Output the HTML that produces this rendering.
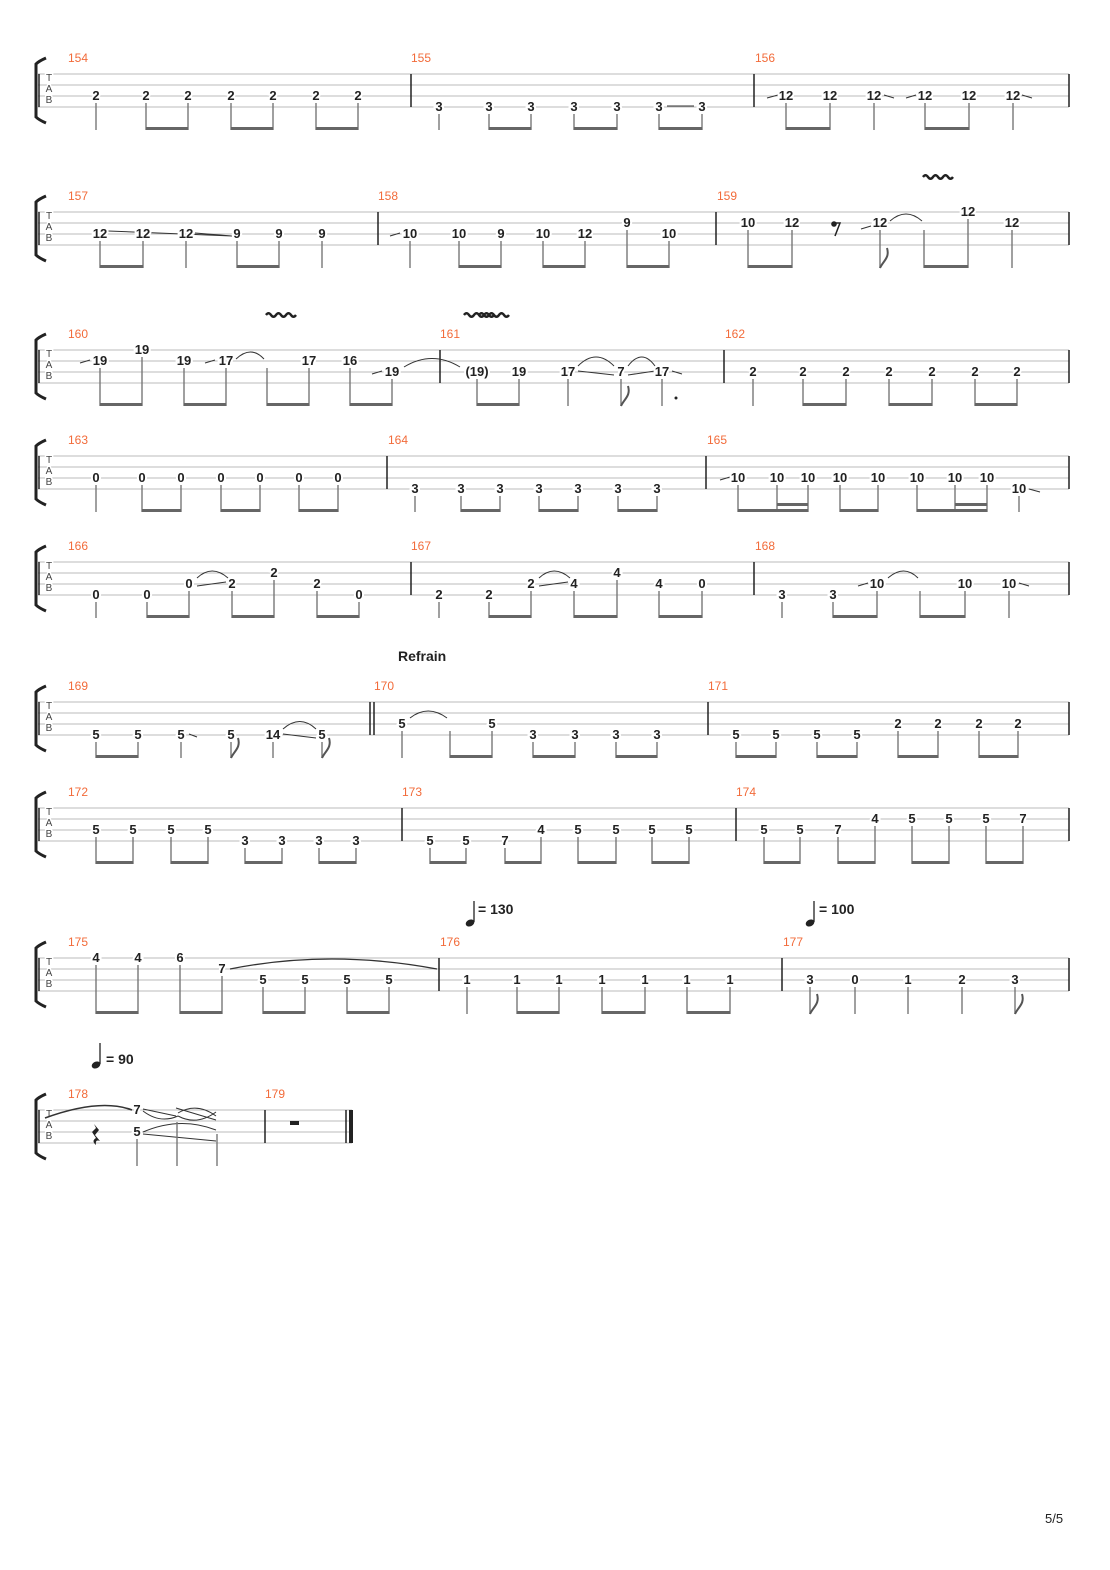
<!DOCTYPE html>
<html><head><meta charset="utf-8"><style>
html,body{margin:0;padding:0;background:#fff;}
svg{display:block;}
.n{font-family:"Liberation Sans",sans-serif;font-weight:bold;font-size:13px;fill:#222;text-anchor:middle;stroke:#fff;stroke-width:4px;paint-order:stroke;}
.m{font-family:"Liberation Sans",sans-serif;font-size:12px;fill:#f26b3a;}
.t{font-family:"Liberation Sans",sans-serif;font-weight:bold;font-size:14px;fill:#222;}
.tab{font-family:"Liberation Sans",sans-serif;font-size:10px;fill:#444;text-anchor:middle;stroke:#fff;stroke-width:3px;paint-order:stroke;}
.sl{stroke:#bbb;stroke-width:1;}
.bar{stroke:#222;stroke-width:1.5;}
.st{stroke:#777;stroke-width:1.4;fill:none;}
.bm{fill:#666;}
.cv{stroke:#333;stroke-width:1;fill:none;}
</style></head><body>
<svg width="1110" height="1570" viewBox="0 0 1110 1570" xmlns="http://www.w3.org/2000/svg">
<defs>
<g id="br">
<path d="M46,-16Q39,-13 36,-10V43Q39,46 46,49" stroke="#222" stroke-width="3" fill="none"/>
<line class="bar" x1="39" y1="0" x2="39" y2="33"/>
<text class="tab" x="49" y="7">T</text><text class="tab" x="49" y="18">A</text><text class="tab" x="49" y="29">B</text>
</g>
<g id="staff">
<path class="sl" d="M38,0H1069M38,11H1069M38,22H1069M38,33H1069"/>
<use href="#br"/>
</g>
<g id="vib"><path d="M0,0 q2.5,-3.5 5,0 t5,0 t5,0 t5,0 t5,0 t5,0" stroke="#222" stroke-width="2.4" fill="none"/></g>
</defs>

<!-- System 1 -->
<g transform="translate(0,74)">
<use href="#staff"/>
<path class="bar" d="M411,0V33M754,0V33M1069,0V33"/>
<text class="m" x="68" y="-12">154</text><text class="m" x="411" y="-12">155</text><text class="m" x="755" y="-12">156</text>
<path class="st" d="M96,29V56M146,29V56M188,29V56M231,29V56M273,29V56M316,29V56M358,29V56M439,40V56M489,40V56M531,40V56M574,40V56M617,40V56M659,40V56M702,40V56M786,29V56M830,29V56M874,29V56M925,29V56M969,29V56M1013,29V56"/>
<path class="bm" d="M146,53h42v3h-42zM231,53h42v3h-42zM316,53h42v3h-42zM489,53h42v3h-42zM574,53h43v3h-43zM659,53h43v3h-43zM786,53h44v3h-44zM925,53h44v3h-44z"/>
<path class="cv" d="M767,24L778,21M884,21L894,24M906,24L916,21M1022,21L1032,24M667,32L694,32"/>
<g class="n">
<text x="96" y="26">2</text><text x="146" y="26">2</text><text x="188" y="26">2</text><text x="231" y="26">2</text><text x="273" y="26">2</text><text x="316" y="26">2</text><text x="358" y="26">2</text>
<text x="439" y="37">3</text><text x="489" y="37">3</text><text x="531" y="37">3</text><text x="574" y="37">3</text><text x="617" y="37">3</text><text x="659" y="37">3</text><text x="702" y="37">3</text>
<text x="786" y="26">12</text><text x="830" y="26">12</text><text x="874" y="26">12</text><text x="925" y="26">12</text><text x="969" y="26">12</text><text x="1013" y="26">12</text>
</g>
</g>

<!-- System 2 -->
<g transform="translate(0,212)">
<use href="#staff"/>
<path class="bar" d="M378,0V33M716,0V33M1069,0V33"/>
<text class="m" x="68" y="-12">157</text><text class="m" x="378" y="-12">158</text><text class="m" x="717" y="-12">159</text>
<path class="cv" d="M108,19L232,24M195,21L232,24M390,24L400,21M861,17L871,14M890,9Q906,-5 922,9"/>
<path class="st" d="M100,29V56M143,29V56M186,29V56M237,29V56M279,29V56M322,29V56M410,29V56M459,29V56M501,29V56M543,29V56M585,29V56M669,29V56M627,18V56M748,18V56M792,18V56M880,18V56M924,18V56M1012,18V56M968,7V56"/>
<path class="bm" d="M100,53h43v3h-43zM237,53h42v3h-42zM459,53h42v3h-42zM543,53h42v3h-42zM627,53h42v3h-42zM748,53h44v3h-44zM924,53h44v3h-44z"/>
<path d="M880,56C883,49 890,46 887,36" stroke="#555" stroke-width="2" fill="none"/>
<circle cx="834" cy="12" r="2.8" fill="#222"/><path d="M834,11L840,11L835,24" stroke="#222" stroke-width="1.5" fill="none"/>
<use href="#vib" x="923" y="-35"/>
<g class="n">
<text x="100" y="26">12</text><text x="143" y="26">12</text><text x="186" y="26">12</text><text x="237" y="26">9</text><text x="279" y="26">9</text><text x="322" y="26">9</text>
<text x="410" y="26">10</text><text x="459" y="26">10</text><text x="501" y="26">9</text><text x="543" y="26">10</text><text x="585" y="26">12</text><text x="627" y="15">9</text><text x="669" y="26">10</text>
<text x="748" y="15">10</text><text x="792" y="15">12</text><text x="880" y="15">12</text><text x="968" y="4">12</text><text x="1012" y="15">12</text>
</g>
</g>

<!-- System 3 -->
<g transform="translate(0,350)">
<use href="#staff"/>
<path class="bar" d="M440,0V33M724,0V33M1069,0V33"/>
<text class="m" x="68" y="-12">160</text><text class="m" x="440" y="-12">161</text><text class="m" x="725" y="-12">162</text>
<path class="cv" d="M80,13L90,10M205,13L215,10M372,24L382,21M578,21L614,25M628,25L655,21M672,21L682,24M236,9Q251,-5 264,9M404,17Q432,0 460,17M578,16Q596,-2 614,16M628,16Q642,-2 655,16"/>
<path class="st" d="M100,18V56M184,18V56M226,18V56M267,18V56M309,18V56M350,18V56M142,7V56M392,29V56M477,29V56M519,29V56M568,29V56M621,29V56M662,29V56M753,29V56M803,29V56M846,29V56M889,29V56M932,29V56M975,29V56M1017,29V56"/>
<path class="bm" d="M100,53h42v3h-42zM184,53h42v3h-42zM267,53h42v3h-42zM350,53h42v3h-42zM477,53h42v3h-42zM803,53h43v3h-43zM889,53h43v3h-43zM975,53h42v3h-42z"/>
<path d="M621,56C624,49 631,46 628,36" stroke="#555" stroke-width="2" fill="none"/>
<circle cx="676" cy="48" r="1.5" fill="#222"/>
<use href="#vib" x="266" y="-35"/><use href="#vib" x="464" y="-35"/><use href="#vib" x="479" y="-35"/>
<g class="n">
<text x="100" y="15">19</text><text x="142" y="4">19</text><text x="184" y="15">19</text><text x="226" y="15">17</text><text x="309" y="15">17</text><text x="350" y="15">16</text><text x="392" y="26">19</text>
<text x="477" y="26">(19)</text><text x="519" y="26">19</text><text x="568" y="26">17</text><text x="621" y="26">7</text><text x="662" y="26">17</text>
<text x="753" y="26">2</text><text x="803" y="26">2</text><text x="846" y="26">2</text><text x="889" y="26">2</text><text x="932" y="26">2</text><text x="975" y="26">2</text><text x="1017" y="26">2</text>
</g>
</g>

<!-- System 4 -->
<g transform="translate(0,456)">
<use href="#staff"/>
<path class="bar" d="M387,0V33M706,0V33M1069,0V33"/>
<text class="m" x="68" y="-12">163</text><text class="m" x="388" y="-12">164</text><text class="m" x="707" y="-12">165</text>
<path class="cv" d="M720,24L730,21M1029,33L1040,36"/>
<path class="st" d="M96,29V56M142,29V56M181,29V56M221,29V56M260,29V56M299,29V56M338,29V56M415,40V56M461,40V56M500,40V56M539,40V56M578,40V56M618,40V56M657,40V56M738,29V56M777,29V56M808,29V56M840,29V56M878,29V56M917,29V56M955,29V56M987,29V56M1019,40V56"/>
<path class="bm" d="M142,53h39v3h-39zM221,53h39v3h-39zM299,53h39v3h-39zM461,53h39v3h-39zM539,53h39v3h-39zM618,53h39v3h-39zM738,53h70v3h-70zM777,47h31v3h-31zM840,53h38v3h-38zM917,53h70v3h-70zM955,47h32v3h-32z"/>
<g class="n">
<text x="96" y="26">0</text><text x="142" y="26">0</text><text x="181" y="26">0</text><text x="221" y="26">0</text><text x="260" y="26">0</text><text x="299" y="26">0</text><text x="338" y="26">0</text>
<text x="415" y="37">3</text><text x="461" y="37">3</text><text x="500" y="37">3</text><text x="539" y="37">3</text><text x="578" y="37">3</text><text x="618" y="37">3</text><text x="657" y="37">3</text>
<text x="738" y="26">10</text><text x="777" y="26">10</text><text x="808" y="26">10</text><text x="840" y="26">10</text><text x="878" y="26">10</text><text x="917" y="26">10</text><text x="955" y="26">10</text><text x="987" y="26">10</text><text x="1019" y="37">10</text>
</g>
</g>

<!-- System 5 -->
<g transform="translate(0,562)">
<use href="#staff"/>
<path class="bar" d="M411,0V33M754,0V33M1069,0V33"/>
<text class="m" x="68" y="-12">166</text><text class="m" x="411" y="-12">167</text><text class="m" x="755" y="-12">168</text>
<path class="cv" d="M197,24L226,20M539,24L568,20M858,24L868,21M1019,21L1029,24M197,16Q212,2 228,16M539,16Q554,2 570,16M888,16Q904,2 918,16"/>
<path class="st" d="M96,40V56M147,40V56M359,40V56M439,40V56M489,40V56M782,40V56M833,40V56M189,29V56M232,29V56M317,29V56M531,29V56M574,29V56M659,29V56M702,29V56M877,29V56M920,29V56M965,29V56M1009,29V56M274,18V56M617,18V56"/>
<path class="bm" d="M147,53h42v3h-42zM232,53h42v3h-42zM317,53h42v3h-42zM489,53h42v3h-42zM574,53h43v3h-43zM659,53h43v3h-43zM833,53h44v3h-44zM920,53h45v3h-45z"/>
<g class="n">
<text x="96" y="37">0</text><text x="147" y="37">0</text><text x="189" y="26">0</text><text x="232" y="26">2</text><text x="274" y="15">2</text><text x="317" y="26">2</text><text x="359" y="37">0</text>
<text x="439" y="37">2</text><text x="489" y="37">2</text><text x="531" y="26">2</text><text x="574" y="26">4</text><text x="617" y="15">4</text><text x="659" y="26">4</text><text x="702" y="26">0</text>
<text x="782" y="37">3</text><text x="833" y="37">3</text><text x="877" y="26">10</text><text x="965" y="26">10</text><text x="1009" y="26">10</text>
</g>
</g>

<!-- System 6 -->
<text class="t" x="398" y="661">Refrain</text>
<g transform="translate(0,702)">
<use href="#staff"/>
<path class="bar" d="M370,0V33M374,0V33M708,0V33M1069,0V33"/>
<text class="m" x="68" y="-12">169</text><text class="m" x="374" y="-12">170</text><text class="m" x="708" y="-12">171</text>
<path class="cv" d="M189,32L197,35M283,32L316,36M283,27Q300,12 316,27M410,16Q428,2 447,16"/>
<path class="st" d="M96,40V56M138,40V56M181,40V56M231,40V56M273,40V56M322,40V56M402,29V56M450,29V56M492,29V56M533,40V56M575,40V56M616,40V56M657,40V56M736,40V56M776,40V56M817,40V56M857,40V56M898,29V56M938,29V56M979,29V56M1018,29V56"/>
<path class="bm" d="M96,53h42v3h-42zM450,53h42v3h-42zM533,53h42v3h-42zM616,53h41v3h-41zM736,53h40v3h-40zM817,53h40v3h-40zM898,53h40v3h-40zM979,53h39v3h-39z"/>
<path d="M231,56C234,49 241,46 238,36M322,56C325,49 332,46 329,36" stroke="#555" stroke-width="2" fill="none"/>
<g class="n">
<text x="96" y="37">5</text><text x="138" y="37">5</text><text x="181" y="37">5</text><text x="231" y="37">5</text><text x="273" y="37">14</text><text x="322" y="37">5</text>
<text x="402" y="26">5</text><text x="492" y="26">5</text><text x="533" y="37">3</text><text x="575" y="37">3</text><text x="616" y="37">3</text><text x="657" y="37">3</text>
<text x="736" y="37">5</text><text x="776" y="37">5</text><text x="817" y="37">5</text><text x="857" y="37">5</text><text x="898" y="26">2</text><text x="938" y="26">2</text><text x="979" y="26">2</text><text x="1018" y="26">2</text>
</g>
</g>

<!-- System 7 -->
<g transform="translate(0,808)">
<use href="#staff"/>
<path class="bar" d="M402,0V33M736,0V33M1069,0V33"/>
<text class="m" x="68" y="-12">172</text><text class="m" x="402" y="-12">173</text><text class="m" x="736" y="-12">174</text>
<path class="st" d="M96,29V56M133,29V56M171,29V56M208,29V56M245,40V56M282,40V56M319,40V56M356,40V56M430,40V56M466,40V56M505,40V56M541,29V56M578,29V56M616,29V56M652,29V56M689,29V56M764,29V56M800,29V56M838,29V56M875,18V56M912,18V56M949,18V56M986,18V56M1023,18V56"/>
<path class="bm" d="M96,53h37v3h-37zM171,53h37v3h-37zM245,53h37v3h-37zM319,53h37v3h-37zM430,53h36v3h-36zM505,53h36v3h-36zM578,53h38v3h-38zM652,53h37v3h-37zM764,53h36v3h-36zM838,53h37v3h-37zM912,53h37v3h-37zM986,53h37v3h-37z"/>
<g class="n">
<text x="96" y="26">5</text><text x="133" y="26">5</text><text x="171" y="26">5</text><text x="208" y="26">5</text><text x="245" y="37">3</text><text x="282" y="37">3</text><text x="319" y="37">3</text><text x="356" y="37">3</text>
<text x="430" y="37">5</text><text x="466" y="37">5</text><text x="505" y="37">7</text><text x="541" y="26">4</text><text x="578" y="26">5</text><text x="616" y="26">5</text><text x="652" y="26">5</text><text x="689" y="26">5</text>
<text x="764" y="26">5</text><text x="800" y="26">5</text><text x="838" y="26">7</text><text x="875" y="15">4</text><text x="912" y="15">5</text><text x="949" y="15">5</text><text x="986" y="15">5</text><text x="1023" y="15">7</text>
</g>
</g>

<!-- System 8 -->
<g transform="translate(0,958)">
<use href="#staff"/>
<path class="bar" d="M439,0V33M782,0V33M1069,0V33"/>
<text class="m" x="68" y="-12">175</text><text class="m" x="440" y="-12">176</text><text class="m" x="783" y="-12">177</text>
<ellipse cx="470" cy="-35" rx="4.5" ry="3.3" transform="rotate(-25 470 -35)" fill="#222"/><path d="M474,-36V-57" stroke="#222" stroke-width="1.3"/>
<text class="t" x="478" y="-44">= 130</text>
<ellipse cx="810" cy="-35" rx="4.5" ry="3.3" transform="rotate(-25 810 -35)" fill="#222"/><path d="M814,-36V-57" stroke="#222" stroke-width="1.3"/>
<text class="t" x="819" y="-44">= 100</text>
<path d="M230,11Q330,-9 437,11" stroke="#333" stroke-width="1.3" fill="none"/>
<path class="st" d="M96,7V56M138,7V56M180,7V56M222,18V56M263,29V56M305,29V56M347,29V56M389,29V56M467,29V56M517,29V56M559,29V56M602,29V56M645,29V56M687,29V56M730,29V56M810,29V56M855,29V56M908,29V56M962,29V56M1015,29V56"/>
<path class="bm" d="M96,53h42v3h-42zM180,53h42v3h-42zM263,53h42v3h-42zM347,53h42v3h-42zM517,53h42v3h-42zM602,53h43v3h-43zM687,53h43v3h-43z"/>
<path d="M810,56C813,49 820,46 817,36M1015,56C1018,49 1025,46 1022,36" stroke="#555" stroke-width="2" fill="none"/>
<g class="n">
<text x="96" y="4">4</text><text x="138" y="4">4</text><text x="180" y="4">6</text><text x="222" y="15">7</text><text x="263" y="26">5</text><text x="305" y="26">5</text><text x="347" y="26">5</text><text x="389" y="26">5</text>
<text x="467" y="26">1</text><text x="517" y="26">1</text><text x="559" y="26">1</text><text x="602" y="26">1</text><text x="645" y="26">1</text><text x="687" y="26">1</text><text x="730" y="26">1</text>
<text x="810" y="26">3</text><text x="855" y="26">0</text><text x="908" y="26">1</text><text x="962" y="26">2</text><text x="1015" y="26">3</text>
</g>
</g>

<!-- System 9 -->
<g transform="translate(0,1110)">
<path class="sl" d="M38,0H352M38,11H352M38,22H352M38,33H352"/>
<use href="#br"/>
<path class="bar" d="M265,0V33M346,0V33"/>
<rect x="349" y="0" width="4" height="33" fill="#222"/>
<text class="m" x="68" y="-12">178</text><text class="m" x="265" y="-12">179</text>
<ellipse cx="96" cy="-45" rx="4.5" ry="3.3" transform="rotate(-25 96 -45)" fill="#222"/><path d="M100,-46V-67" stroke="#222" stroke-width="1.3"/>
<text class="t" x="106" y="-46">= 90</text>
<path d="M45,8Q100,-12 132,0" stroke="#333" stroke-width="1.6" fill="none"/>
<path class="cv" d="M143,-1L176,6M143,1Q160,14 178,6M178,3Q197,-8 216,6M178,6Q197,16 216,2M176,-2L216,10M143,22Q180,6 216,20M143,24L216,31"/>
<path d="M94,14L99,20L95,25L100,31Q95,29 96,35Q91,31 96,28L92,22L96,18Z" fill="#222"/>
<rect x="290" y="11" width="9" height="4" fill="#222"/>
<path class="st" d="M137,29V56M177,12V56M217,24V56"/>
<g class="n">
<text x="137" y="4">7</text><text x="137" y="26">5</text>
</g>
</g>

<text x="1045" y="1523" style="font-family:'Liberation Sans',sans-serif;font-size:13px;fill:#222;">5/5</text>
</svg>
</body></html>
